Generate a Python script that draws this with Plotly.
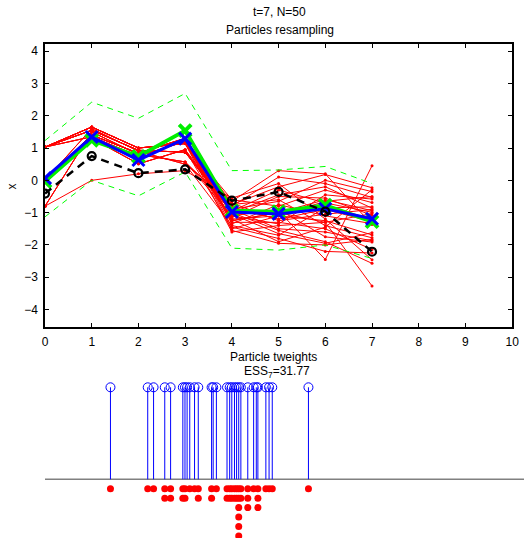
import plotly.graph_objects as go

W, H = 531, 538
ML = 45

time_steps = [0, 1, 2, 3, 4, 5, 6, 7]

# particle trajectories (one value per particle at each time step)
x_t0 = [1.03, 1.03, -0.8, 0.0, 1.03, -0.8, 0.0, 0.0, 1.03, 1.03, 1.03, 0.0, 0.0, 1.03, 0.0, 1.03, -0.8, 0.0, 1.03, 1.03, 0.0, 1.03, 0.0, -0.8, 0.0, 1.03, 1.03, 0.0, 1.03]
x_t1 = [1.65, 1.55, 0.0, 1.4, 1.65, 1.5, 1.3, 1.4, 1.55, 1.35, 1.65, 1.6, 1.4, 1.55, 1.3, 1.65, 1.5, 1.4, 1.35, 1.55, 1.6, 1.65, 1.4, 1.5, 1.3, 1.55, 1.35, 1.4, 1.65]
x_t2 = [1.0, 0.93, 0.2, 0.84, 1.0, 0.8, 0.51, 0.84, 0.93, 0.75, 1.0, 0.9, 0.84, 0.93, 0.51, 1.0, 0.8, 0.84, 0.75, 0.93, 0.9, 1.0, 0.84, 0.8, 0.51, 0.93, 0.75, 0.84, 1.0]
x_t3 = [1.14, 0.87, 0.3, 1.3, 1.14, 0.57, 0.95, 1.3, 0.87, 1.2, 1.14, 0.5, 1.3, 0.87, 0.95, 1.14, 0.57, 1.3, 1.2, 0.87, 0.5, 1.14, 1.3, 0.57, 0.95, 0.87, 1.2, 1.3, 1.14]
x_t4 = [-1.25, -1.0, -0.55, -1.45, -1.3, -1.1, -0.9, -1.55, -0.75, -1.2, -1.05, -0.65, -1.35, -0.85, -1.15, -1.6, -0.95, -1.25, -0.7, -1.0, -1.4, -0.6, -1.1, -0.8, -1.5, -0.9, -1.2, -0.75, -1.05]
x_t5 = [-1.0, -1.55, -0.1, -1.8, -1.3, -0.9, -1.5, -1.95, -0.6, -1.1, -1.65, 0.3, -0.75, -1.2, -0.5, -1.4, -0.3, -1.0, -1.25, -0.45, -1.7, -0.8, -1.35, 0.1, -1.1, -0.65, -1.9, -0.2, -0.95]
x_t6 = [-1.3, -1.9, -1.2, -2.2, -1.5, -1.75, -1.6, -2.0, -1.4, -1.25, -1.95, 0.2, -1.1, -0.9, -0.55, -1.3, -0.7, -0.6, -1.05, -0.2, -0.85, -0.3, -0.45, -0.1, -0.65, 0.0, -1.45, 0.18, -2.45]
x_t7 = [-3.27, -2.57, -2.46, -2.25, -2.14, -1.91, -1.87, -1.83, -1.78, -1.69, -1.62, -1.37, -1.34, -1.28, -1.08, -1.03, -0.99, -0.94, -0.90, -0.86, -0.82, -0.69, -0.58, -0.53, -0.50, -0.35, -0.29, -0.23, 0.45]

upper_bound = [1.23, 2.42, 1.92, 2.69, 0.30, 0.32, 0.43, -0.10]
lower_bound = [-1.13, 0.0, -0.48, 0.26, -2.10, -2.16, -2.00, -2.42]
true_state = [-0.03, 1.24, 0.74, 1.54, -0.94, -0.97, -0.77, -1.28]
estimate = [0.07, 1.34, 0.63, 1.29, -0.98, -1.04, -0.88, -1.19]
observation = [-0.41, 0.75, 0.22, 0.34, -0.63, -0.36, -0.97, -2.21]

stem_weight = 0.02
resampled_values = [-3.27, -2.57, -2.46, -2.25, -2.14, -1.91, -1.87, -1.78, -1.69, -1.62, -1.37, -1.28, -1.08, -1.03, -0.99, -0.94, -0.90, -0.86, -0.82, -0.69, -0.58, -0.50, -0.35, -0.29, -0.23, 0.45]
resampled_counts = [1, 1, 1, 2, 2, 2, 2, 1, 1, 2, 2, 1, 2, 2, 2, 2, 2, 6, 2, 3, 1, 3, 1, 1, 1, 1]

FONT = "Liberation Sans, Arial, Helvetica, sans-serif"

fig = go.Figure()

# red particle trajectories
cols = [x_t0, x_t1, x_t2, x_t3, x_t4, x_t5, x_t6, x_t7]
rx, ry = [], []
for i in range(len(x_t7)):
    for t, c in zip(time_steps, cols):
        rx.append(t)
        ry.append(c[i])
    rx.append(None)
    ry.append(None)
fig.add_trace(go.Scatter(x=rx, y=ry, mode="lines+markers",
                         line=dict(color="#ff0000", width=1),
                         marker=dict(color="#ff0000", size=3),
                         xaxis="x", yaxis="y", showlegend=False))

for b in (upper_bound, lower_bound):
    fig.add_trace(go.Scatter(x=time_steps, y=b, mode="lines",
                             line=dict(color="#00ff00", width=1, dash="6px,5px"),
                             xaxis="x", yaxis="y", showlegend=False))

fig.add_trace(go.Scatter(x=time_steps, y=true_state, mode="lines+markers",
                         line=dict(color="#00ee00", width=4),
                         marker=dict(symbol="x-thin", size=12, line=dict(color="#00ee00", width=4)),
                         xaxis="x", yaxis="y", showlegend=False))
fig.add_trace(go.Scatter(x=time_steps, y=estimate, mode="lines+markers",
                         line=dict(color="#0000ff", width=3),
                         marker=dict(symbol="x-thin", size=12, line=dict(color="#0000ff", width=3)),
                         xaxis="x", yaxis="y", showlegend=False))
fig.add_trace(go.Scatter(x=time_steps, y=observation, mode="lines+markers",
                         line=dict(color="#000000", width=2.5, dash="8px,6px"),
                         marker=dict(symbol="circle-open", size=8, color="#000000", line=dict(width=2.2)),
                         xaxis="x", yaxis="y", showlegend=False))

# bottom: stems of particle weights
sx, sy = [], []
for v in x_t7:
    sx += [v, v, None]
    sy += [0, stem_weight, None]
fig.add_trace(go.Scatter(x=sx, y=sy, mode="lines", line=dict(color="#0000ff", width=1),
                         xaxis="x2", yaxis="y2", showlegend=False))
fig.add_trace(go.Scatter(x=x_t7, y=[stem_weight] * len(x_t7), mode="markers",
                         marker=dict(symbol="circle-open", size=9, color="#0000ff", line=dict(width=1)),
                         xaxis="x2", yaxis="y2", showlegend=False, cliponaxis=False))

# resampled particles (stacked red dots)
DY = 0.00205
dx, dyv = [], []
for v, n in zip(resampled_values, resampled_counts):
    for k in range(n):
        dx.append(v)
        dyv.append(-(k + 1) * DY)
fig.add_trace(go.Scatter(x=dx, y=dyv, mode="markers",
                         marker=dict(color="#ff0000", size=7),
                         xaxis="x2", yaxis="y2", showlegend=False, cliponaxis=False))

def px_x(p):
    return (p - ML) / (W - ML)

def px_y(p):
    return 1 - p / H

top_right = px_x(519)
axis_common = dict(showline=True, linecolor="black", linewidth=1.5, mirror="allticks",
                   ticks="inside", ticklen=4, tickcolor="black", tickwidth=1,
                   showgrid=False, zeroline=False,
                   tickfont=dict(family=FONT, size=12, color="black"))

def label(text, x, y, angle=0):
    return dict(text=text, x=px_x(x), y=px_y(y), xref="paper", yref="paper",
                xanchor="center", yanchor="middle", textangle=angle,
                showarrow=False, font=dict(family=FONT, size=12, color="black"))

fig.update_layout(
    width=W, height=H,
    margin=dict(l=ML, r=0, t=0, b=0),
    paper_bgcolor="white", plot_bgcolor="white",
    xaxis=dict(domain=[0, top_right], range=[0, 10], tickvals=list(range(11)), anchor="y",
               ticklabelstandoff=3, **axis_common),
    yaxis=dict(domain=[px_y(327), px_y(44)], range=[-4.54, 4.22], tickvals=list(range(-4, 5)),
               anchor="x", ticklabelstandoff=3, **axis_common),
    xaxis2=dict(domain=[0, 1], range=[-4.5, 4.5], visible=False, anchor="y2"),
    yaxis2=dict(domain=[0, px_y(380)], range=[-(538 - 479.3) / 4600, (479.3 - 380) / 4600],
                visible=False, anchor="x2"),
    shapes=[dict(type="line", xref="x2 domain", yref="y2", x0=0, x1=1, y0=0, y1=0,
                 line=dict(color="#808080", width=1.5), layer="below")],
    annotations=[
        label("t=7, N=50", 283, 12),
        label("Particles resampling", 283, 30),
        label("x", 12, 186, -90),
        label("Particle tweights", 277, 357),
        label("ESS<sub>7</sub>=31.77", 280, 372),
    ],
)

fig.write_html("out.html", config={"displayModeBar": False},
               post_script="document.body.style.margin='0';document.body.style.overflow='hidden';")
